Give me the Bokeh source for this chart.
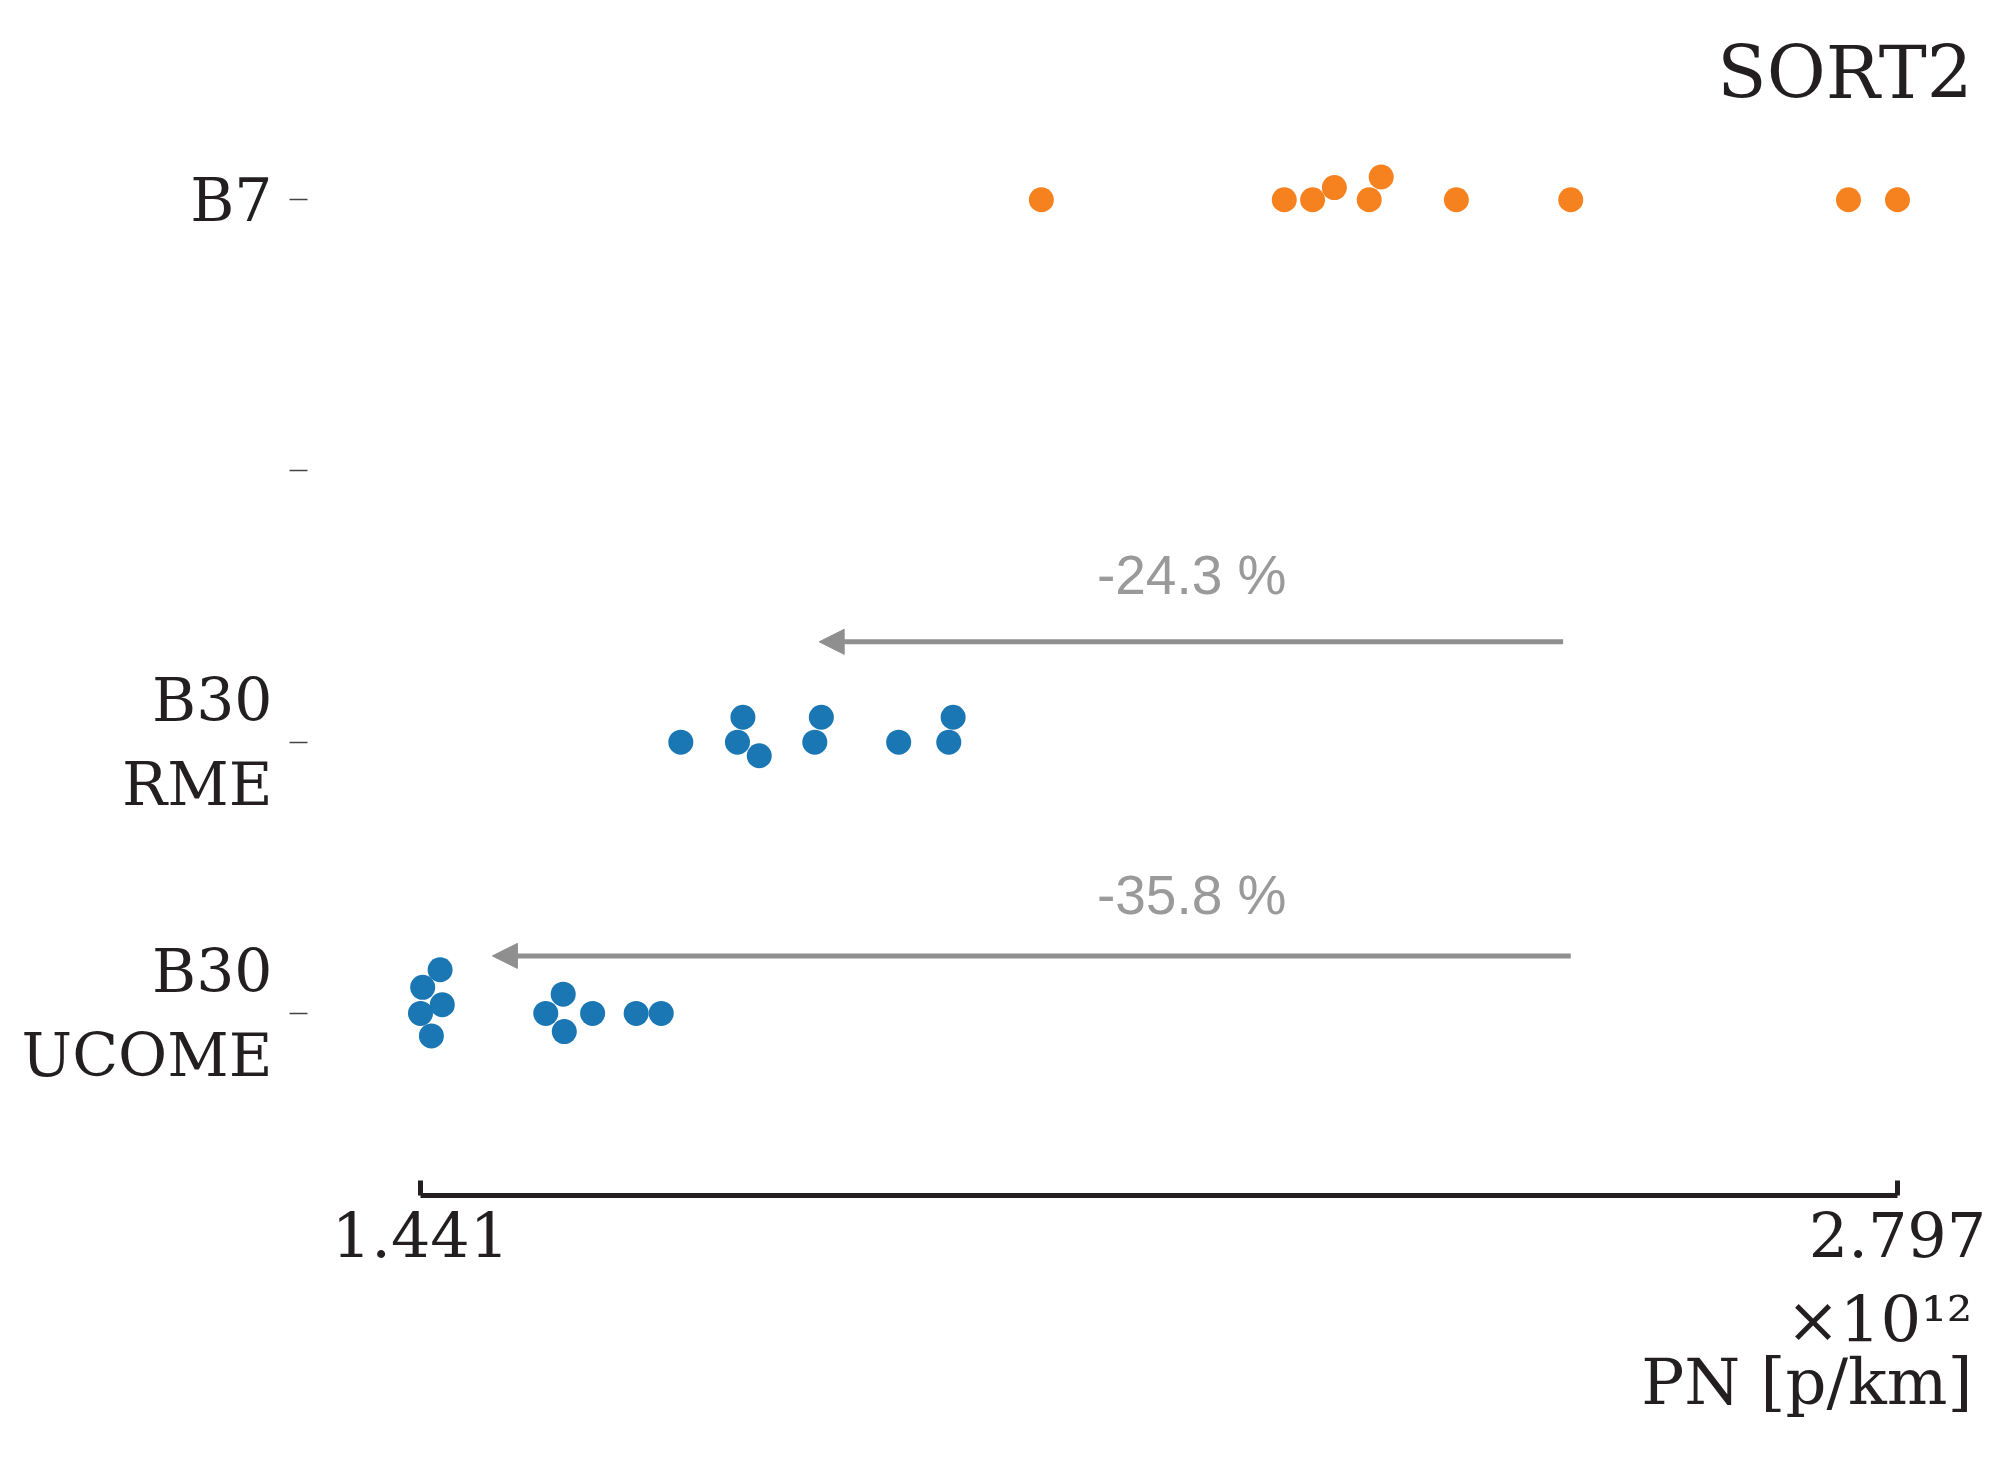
from bokeh.plotting import figure
from bokeh.models import FixedTicker, Range1d, Label, Arrow, NormalHead, ColumnDataSource, Title
from bokeh.embed import file_html
from bokeh.resources import INLINE

# ---- data (PN in units of 1e12 p/km) ----
category_labels = ["B30\nUCOME", "B30\nRME", "", "B7"]
category_pos = [1, 2, 3, 4]

b7_pn = [2.011, 2.234, 2.260, 2.280, 2.312, 2.323, 2.392, 2.497, 2.752, 2.797]
b7_jitter = [0, 0, 0, 0.045, 0, 0.084, 0, 0, 0, 0]

rme_pn = [1.680, 1.737, 1.732, 1.752, 1.809, 1.803, 1.880, 1.930, 1.926]
rme_jitter = [0, 0.092, 0, -0.050, 0.092, 0, 0, 0.092, 0]

ucome_pn = [1.459, 1.443, 1.461, 1.441, 1.451, 1.572, 1.556, 1.573, 1.599, 1.639, 1.662]
ucome_jitter = [0.161, 0.096, 0.032, 0, -0.083, 0.071, 0, -0.067, 0, 0, 0]

x_ticks = [1.441, 2.797]
x_tick_labels = ["1.441", "2.797"]

pct_labels = ["-24.3 %", "-35.8 %"]
arrow_from = [2.490, 2.497]
arrow_to = [1.807, 1.507]
arrow_y = [2.370, 1.212]
pct_x = [2.149, 2.149]
pct_y = [2.617, 1.437]

title_text = "SORT2"
scale_text = "×10¹²"
unit_text = "PN [p/km]"

SERIF = "DejaVu Serif"
DARK = "#231f20"
GRAY = "#8f8f8f"
BLUE = "#1a77b4"
ORANGE = "#f5821f"

W, H = 1990, 1459
ML, MR, MT, MB = 307, 18, 116, 264

X0, X1 = 1.33725, 2.86586
Y0, Y1 = 0.3285, 4.307

p = figure(width=W, height=H, title=title_text,
           x_range=Range1d(X0, X1), y_range=Range1d(Y0, Y1),
           output_backend="svg", toolbar_location=None,
           min_border_left=ML, min_border_right=MR,
           min_border_top=MT, min_border_bottom=MB)
p.outline_line_color = None
p.grid.visible = False
p.background_fill_color = "white"
p.border_fill_color = "white"

p.title.align = "right"
p.title.text_font = SERIF
p.title.text_font_size = "72px"
p.title.text_font_style = "normal"
p.title.text_color = DARK
p.title.standoff = 4

# x axis (range frame)
xa = p.xaxis[0]
xa.ticker = FixedTicker(ticks=x_ticks)
xa.major_label_overrides = {t: l for t, l in zip(x_ticks, x_tick_labels)}
xa.bounds = (x_ticks[0], x_ticks[-1])
xa.axis_line_width = 5
xa.axis_line_color = DARK
xa.major_tick_line_width = 5
xa.major_tick_line_color = DARK
xa.major_tick_in = 15
xa.major_tick_out = 0
xa.minor_tick_line_color = None
xa.major_label_text_font = SERIF
xa.major_label_text_font_size = "62px"
xa.major_label_text_color = DARK
xa.major_label_standoff = 16

# y axis (categories)
ya = p.yaxis[0]
ya.ticker = FixedTicker(ticks=category_pos)
ya.major_label_overrides = {c: l for c, l in zip(category_pos, category_labels)}
ya.axis_line_color = None
ya.major_tick_line_color = "#444444"
ya.major_tick_line_width = 1.5
ya.major_tick_in = 0
ya.major_tick_out = 18
ya.minor_tick_line_color = None
ya.major_label_text_font = SERIF
ya.major_label_text_font_size = "60px"
ya.major_label_text_color = DARK
ya.major_label_standoff = 17

# unit texts below the x axis, right aligned with the frame edge
for txt, so in [(scale_text, 42), (unit_text, -70)]:
    t = Title(text=txt, align="right", text_font=SERIF, text_font_size="64px",
              text_font_style="normal", text_color=DARK, standoff=so)
    p.add_layout(t, "below")

def add_group(xs, jit, pos, color):
    src = ColumnDataSource(dict(x=xs, y=[pos + j for j in jit]))
    p.scatter("x", "y", source=src, size=25, fill_color=color, line_color=None)

add_group(b7_pn, b7_jitter, category_pos[3], ORANGE)
add_group(rme_pn, rme_jitter, category_pos[1], BLUE)
add_group(ucome_pn, ucome_jitter, category_pos[0], BLUE)

for a0, a1, ay, tx, ty, tl in zip(arrow_from, arrow_to, arrow_y, pct_x, pct_y, pct_labels):
    p.add_layout(Arrow(x_start=a0, y_start=ay, x_end=a1, y_end=ay,
                       line_color=GRAY, line_width=5,
                       end=NormalHead(size=25, fill_color=GRAY, line_color=GRAY, line_width=1)))
    p.add_layout(Label(x=tx, y=ty, text=tl, text_align="center", text_baseline="alphabetic",
                       text_font="Liberation Sans", text_font_size="55px", text_color="#9a9a9a"))

open("out.html", "w").write(file_html(p, INLINE))
